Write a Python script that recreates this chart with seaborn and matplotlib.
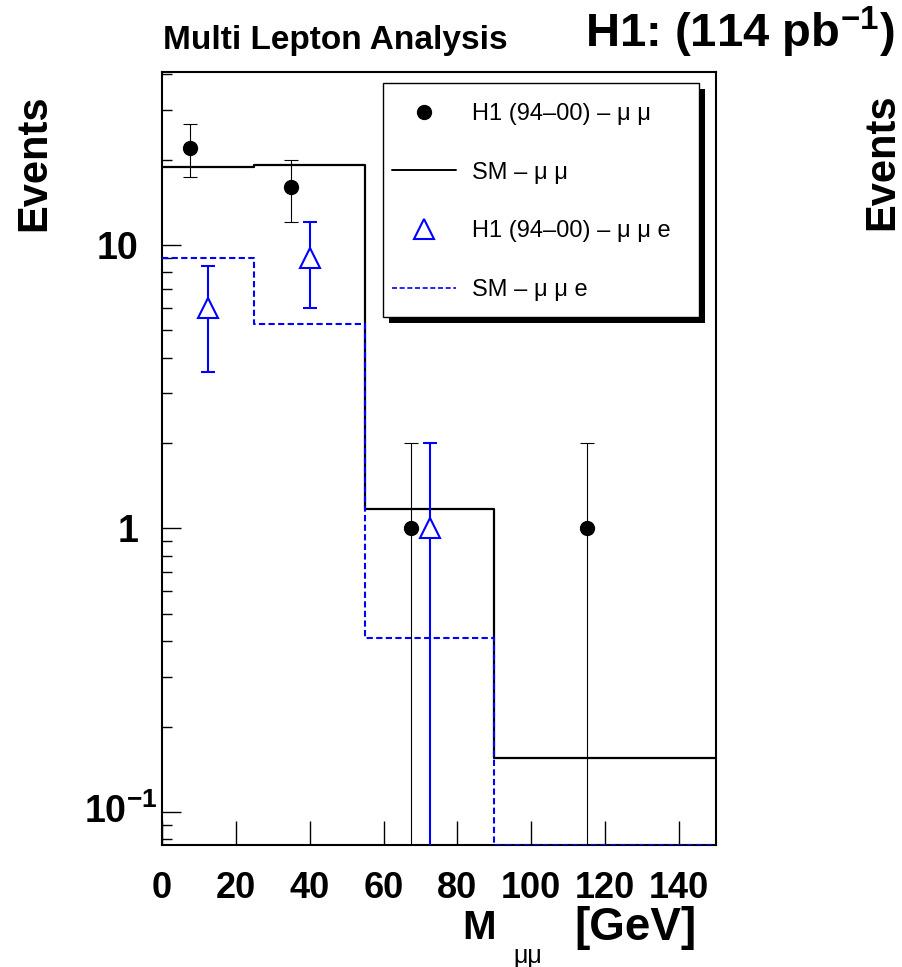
import numpy as np
import matplotlib
matplotlib.use('Agg')
import matplotlib.pyplot as plt
import matplotlib.ticker as mticker
import matplotlib.transforms as mtransforms
from matplotlib.lines import Line2D
from matplotlib.patches import Rectangle
import seaborn as sns

sns.set_style('white')
plt.rcParams['font.family'] = ['Liberation Sans', 'DejaVu Sans']
plt.rcParams['mathtext.fontset'] = 'custom'
plt.rcParams['mathtext.rm'] = 'Liberation Sans'
plt.rcParams['mathtext.bf'] = 'Liberation Sans:bold'
plt.rcParams['mathtext.it'] = 'Liberation Sans:italic'
for key in ['text.color', 'axes.labelcolor', 'xtick.color', 'ytick.color']:
    plt.rcParams[key] = 'black'

# Histogram binning (GeV)
bin_edges = [0, 25, 55, 90, 150]
bin_centers = [12.5, 40, 72.5, 120]

# SM expectations per bin
sm_mumu = [18.8, 19.2, 1.17, 0.155]
sm_mumue = [9.0, 5.25, 0.41, 0.0]

# H1 data (94-00)
data_mumu_x = [7.5, 35, 67.5, 115]
data_mumu = [22, 16, 1, 1]
data_mumu_err = [4.7, 4.0, 1.0, 1.0]
data_mumue_x = [12.5, 40, 72.5]
data_mumue = [6, 9, 1]
data_mumue_err = [2.45, 3.0, 1.0]

YMIN, YMAX = 0.0765, 40.7

fig = plt.figure(figsize=(9.02, 9.67), dpi=100)
ax = fig.add_axes([0.1796, 0.1262, 0.6142, 0.7993])

# SM histograms (values below the axis minimum are drawn on the bottom edge)
sns.histplot(x=bin_centers, weights=np.clip(sm_mumu, YMIN, None), bins=bin_edges,
             element='step', fill=False, color='black', linewidth=1.6, ax=ax)
sns.histplot(x=bin_centers, weights=np.clip(sm_mumue, YMIN, None), bins=bin_edges,
             element='step', fill=False, color='blue', linewidth=1.5,
             linestyle=(0, (3, 1.6)), zorder=3, ax=ax)

# H1 data points
ax.errorbar(data_mumu_x, data_mumu, yerr=data_mumu_err, fmt='o', color='black',
            markersize=10, elinewidth=0.8, capsize=5, capthick=0.8, zorder=5)
ax.errorbar(data_mumue_x, data_mumue, yerr=data_mumue_err, fmt='^', color='blue',
            markerfacecolor='white', markeredgecolor='blue', markeredgewidth=1.5,
            markersize=14, elinewidth=1.5, capsize=5, capthick=1.5, zorder=5)

ax.set_yscale('log')
ax.set_xlim(0, 150)
ax.set_ylim(YMIN, YMAX)
ax.set_xlabel('')
ax.set_ylabel('')

for sp in ax.spines.values():
    sp.set_linewidth(1.5)
    sp.set_color('black')

ax.set_xticks([0, 20, 40, 60, 80, 100, 120, 140],
              ['0', '20', '40', '60', '80', '100', '120', '140'],
              fontsize=26, fontweight='bold')
ax.tick_params(axis='x', which='major', direction='in', length=17, width=1,
               pad=19, bottom=True, top=False)
ax.xaxis.set_minor_locator(mticker.NullLocator())

ax.yaxis.set_major_locator(mticker.FixedLocator([0.1, 1, 10]))
ax.yaxis.set_major_formatter(mticker.FixedFormatter(['', '1', '10']))
ax.yaxis.set_minor_locator(mticker.LogLocator(base=10, subs=np.arange(2, 10)))
ax.yaxis.set_minor_formatter(mticker.NullFormatter())
ax.tick_params(axis='y', which='major', direction='in', length=14, width=1,
               pad=17, labelsize=27, left=True, right=False)
ax.tick_params(axis='y', which='minor', direction='in', length=7, width=1,
               left=True, right=False)
for t in ax.get_yticklabels():
    t.set_fontweight('bold')
# the 10^-1 label sits a little further right, as in the original
blend = mtransforms.blended_transform_factory(ax.transAxes, ax.transData)
ax.text(-0.009, 0.1, r'$\mathbf{10^{-1}}$', transform=blend, ha='right',
        va='center', fontsize=27, fontweight='bold')

# Legend with a plain frame and a hard black shadow
box = dict(x0=0.3989, y0=0.6831, w=0.5704, h=0.3027)
shadow_tr = mtransforms.offset_copy(ax.transAxes, fig=fig, x=6, y=-6, units='dots')
ax.add_patch(Rectangle((box['x0'], box['y0']), box['w'], box['h'],
                       transform=shadow_tr, facecolor='black', edgecolor='none',
                       zorder=9, clip_on=False))
ax.add_patch(Rectangle((box['x0'], box['y0']), box['w'], box['h'],
                       transform=ax.transAxes, facecolor='white', edgecolor='black',
                       linewidth=1.0, zorder=9.5, clip_on=False))

handles = [
    Line2D([], [], marker='o', color='black', linestyle='none', markersize=10),
    Line2D([], [], color='black', linewidth=1.4),
    Line2D([], [], marker='^', color='blue', markerfacecolor='white',
           markeredgewidth=1.5, linestyle='none', markersize=14),
    Line2D([], [], color='blue', linewidth=1.2, linestyle=(0, (3, 1.6))),
]
labels = ['H1 (94–00) – μ μ', 'SM – μ μ', 'H1 (94–00) – μ μ e', 'SM – μ μ e']
leg = ax.legend(handles, labels, loc='upper left',
                bbox_to_anchor=((392 - 162) / 554, (845 - 103) / 773),
                borderaxespad=0, borderpad=0, fontsize=17, labelspacing=1.55,
                handlelength=2.7, handletextpad=0.7, frameon=False)
leg.set_zorder(10)

# Labels and titles
fig.text(34 / 902, 1 - 163 / 967, 'Events', rotation=90, ha='center', va='center',
         fontsize=30, fontweight='bold')
fig.text(882 / 902, 1 - 162 / 967, 'Events', rotation=90, ha='center', va='center',
         fontsize=30, fontweight='bold')
fig.text(335 / 902, 1 - 41 / 967, 'Multi Lepton Analysis', ha='center', va='center',
         fontsize=24, fontweight='bold')
fig.text(740 / 902, 1 - 32 / 967, r'H1: (114 pb$\mathbf{^{-1}}$)', ha='center',
         va='center', fontsize=34, fontweight='bold')
fig.text(479 / 902, 1 - 928 / 967, 'M', ha='center', va='center',
         fontsize=29, fontweight='bold')
fig.text(528 / 902, 1 - 956 / 967, 'μμ', ha='center', va='center', fontsize=18)
fig.text(697 / 902, 1 - 928 / 967, '[GeV]', ha='right', va='center',
         fontsize=33, fontweight='bold')

fig.savefig('out.png', dpi=100)
